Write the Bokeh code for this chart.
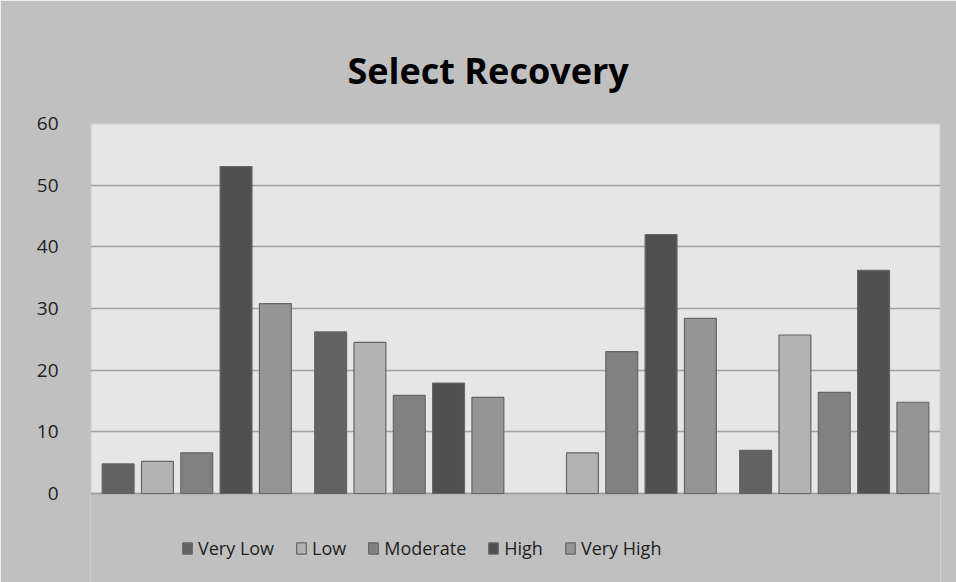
from bokeh.plotting import figure
from bokeh.models import (FixedTicker, Legend, LegendItem, ColumnDataSource, Range1d,
                          BoxAnnotation)
from bokeh.transform import dodge
from bokeh.embed import file_html
from bokeh.resources import INLINE

# ---- data ----
groups = ["1", "2", "3", "4"]
series = ["Very Low", "Low", "Moderate", "High", "Very High"]
very_low = [4.8, 26.2, float("nan"), 7.0]
low = [5.2, 24.5, 6.6, 25.7]
moderate = [6.6, 15.9, 23.0, 16.4]
high = [53.0, 17.9, 42.0, 36.2]
very_high = [30.8, 15.6, 28.4, 14.8]
y_ticks = [0, 10, 20, 30, 40, 50, 60]

values = [very_low, low, moderate, high, very_high]
colors = ["#626262", "#b3b3b3", "#818181", "#505050", "#959595"]

FONT = "Open Sans"

# layout (pixels): plot area 370 px tall for 0..60, legend strip of 89 px below it
Y_MAX = 60
AREA_PX = 370
LEGEND_PX = 89
y_bottom = -LEGEND_PX * Y_MAX / AREA_PX

p = figure(
    width=956, height=582,
    x_range=Range1d(0, len(groups)),
    y_range=Range1d(y_bottom, Y_MAX),
    output_backend="svg", toolbar_location=None,
    min_border_left=90, min_border_right=16,
    min_border_top=123, min_border_bottom=0,
)
p.border_fill_color = "#c0c0c0"
p.background_fill_color = "#c0c0c0"
p.outline_line_color = None

# light plot area 0..60 with its grey border
area = BoxAnnotation(bottom=0, top=Y_MAX, fill_color="#e6e6e6", fill_alpha=1.0,
                     line_color="#8c8c8c", line_width=2, level="image")
p.add_layout(area)

p.title.text = "Select Recovery"
p.title.align = "left"
p.title.offset = 257
p.title.text_font = FONT
p.title.text_font_style = "bold"
p.title.text_font_size = "36px"
p.title.text_color = "#000000"
p.title.standoff = 58

step = 0.185
width = 0.15
# each group occupies one unit of the x range; its centre is index + 0.5
gx = [i + 0.5 for i in range(len(groups))]
src = ColumnDataSource(dict(gx=gx, groups=groups,
                            **{f"s{i}": v for i, v in enumerate(values)}))
items = []
for i, (name, col) in enumerate(zip(series, colors)):
    r = p.vbar(x=dodge("gx", (i - 2) * step), top=f"s{i}",
               width=width, source=src, fill_color=col,
               line_color="#666666", line_width=1.2)
    items.append(LegendItem(label=name, renderers=[r]))

# the reference shows no x axis
p.xaxis.visible = False
p.xgrid.visible = False

p.ygrid.grid_line_color = "#a0a0a0"
p.ygrid.grid_line_width = 1.5

ya = p.yaxis[0]
ya.ticker = FixedTicker(ticks=y_ticks)
ya.axis_line_color = None
ya.major_tick_line_color = None
ya.minor_tick_line_color = None
ya.major_label_standoff = 26
ya.major_label_text_font = FONT
ya.major_label_text_font_size = "19px"
ya.major_label_text_color = "#222222"

legend = Legend(items=items, orientation="horizontal", location=(91, 22))
legend.border_line_color = None
legend.background_fill_alpha = 0
legend.padding = 0
legend.margin = 0
legend.spacing = 21
legend.glyph_width = 12
legend.glyph_height = 14
legend.label_standoff = 5
legend.label_text_font = FONT
legend.label_text_font_size = "18px"
legend.label_text_color = "#222222"
p.add_layout(legend, "center")

open("out.html", "w").write(file_html(p, INLINE))
